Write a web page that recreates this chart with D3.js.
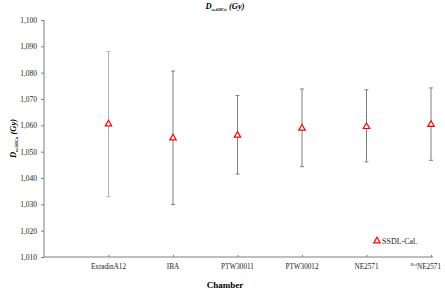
<!DOCTYPE html>
<html>
<head>
<meta charset="utf-8">
<script src="https://cdn.jsdelivr.net/npm/d3@7"></script>
<style>
  body { margin: 0; background: #fff; }
  svg { display: block; font-family: "Liberation Serif", "Times New Roman", serif; }
</style>
</head>
<body>
<div id="chart"></div>
<script>
// Data
const chambers = ["ExradinA12", "IBA", "PTW30011", "PTW30012", "NE2571", "RefNE2571"];
const doseValues = [1.0605, 1.0552, 1.0562, 1.0589, 1.0595, 1.0603];
const errorLow = [1.0329, 1.0299, 1.0415, 1.0443, 1.0461, 1.0467];
const errorHigh = [1.0880, 1.0806, 1.0713, 1.0738, 1.0735, 1.0742];
const barColors = ["#b4b4b4", "#7f7f7f", "#7f7f7f", "#7f7f7f", "#7f7f7f", "#7f7f7f"];
const yTicks = [1.010, 1.020, 1.030, 1.040, 1.050, 1.060, 1.070, 1.080, 1.090, 1.100];

const W = 445, H = 289;
const margin = { left: 44, right: 14, top: 20, bottom: 32 };

const svg = d3.select("#chart").append("svg")
    .attr("width", W)
    .attr("height", H);

const x = d3.scaleLinear()
    .domain([0, chambers.length])
    .range([margin.left, W - margin.right]);

const y = d3.scaleLinear()
    .domain([1.010, 1.100])
    .range([H - margin.bottom, margin.top]);

const commaFmt = v => d3.format(".3f")(v).replace(".", ",");

// Y axis
const yAxis = svg.append("g")
    .attr("transform", `translate(${margin.left},0)`)
    .call(d3.axisLeft(y).tickValues(yTicks).tickFormat(commaFmt).tickSize(3).tickPadding(4));
yAxis.select(".domain").attr("stroke", "#7f7f7f").attr("d", `M0,${y(1.100)}V${y(1.010)}`);
yAxis.selectAll(".tick line").attr("stroke", "#7f7f7f");
yAxis.selectAll(".tick text").attr("font-size", 7.5).attr("fill", "#222")
    .attr("font-family", "Liberation Serif");

// X axis
const xAxis = svg.append("g")
    .attr("transform", `translate(0,${y(1.010)})`)
    .call(d3.axisBottom(x).tickValues(d3.range(1, chambers.length + 1)).tickFormat("").tickSize(-2));
xAxis.select(".domain").attr("stroke", "#7f7f7f").attr("d", `M${margin.left},0H${x(chambers.length) + 2}`);
xAxis.selectAll(".tick line").attr("stroke", "#7f7f7f");

// X tick labels
const labels = svg.append("g").selectAll("text")
    .data(chambers)
    .join("text")
    .attr("x", (d, i) => d.startsWith("Ref") ? W - 4 : x(i + 1))
    .attr("y", y(1.010) + 12)
    .attr("text-anchor", d => d.startsWith("Ref") ? "end" : "middle")
    .attr("font-size", 7.2)
    .attr("fill", "#222");
labels.each(function(d) {
    const t = d3.select(this);
    if (d.startsWith("Ref")) {
        t.append("tspan").attr("font-size", 4.5).attr("dy", -3).text("Ref");
        t.append("tspan").attr("dy", 3).text(d.slice(3));
    } else {
        t.text(d);
    }
});

// Error bars
const bars = svg.append("g").selectAll("g")
    .data(chambers)
    .join("g")
    .attr("stroke", (d, i) => barColors[i])
    .attr("stroke-width", 1);
bars.append("line")
    .attr("x1", (d, i) => x(i + 1)).attr("x2", (d, i) => x(i + 1))
    .attr("y1", (d, i) => y(errorLow[i])).attr("y2", (d, i) => y(errorHigh[i]));
bars.append("line")
    .attr("x1", (d, i) => x(i + 1) - 2).attr("x2", (d, i) => x(i + 1) + 2)
    .attr("y1", (d, i) => y(errorHigh[i])).attr("y2", (d, i) => y(errorHigh[i]));
bars.append("line")
    .attr("x1", (d, i) => x(i + 1) - 2).attr("x2", (d, i) => x(i + 1) + 2)
    .attr("y1", (d, i) => y(errorLow[i])).attr("y2", (d, i) => y(errorLow[i]));

// Markers
const tri = d3.symbol().type(d3.symbolTriangle).size(18);
svg.append("g").selectAll("path")
    .data(doseValues)
    .join("path")
    .attr("transform", (d, i) => `translate(${x(i + 1)},${y(d)})`)
    .attr("d", tri)
    .attr("fill", "#fff")
    .attr("stroke", "#ff0000")
    .attr("stroke-width", 1.2);

// Title
const title = svg.append("text")
    .attr("x", 225).attr("y", 9)
    .attr("text-anchor", "middle")
    .attr("font-weight", "bold").attr("font-style", "italic")
    .attr("font-size", 8.5);
title.append("tspan").text("D");
title.append("tspan").attr("font-size", 5).attr("dy", 2).text("w,60Co");
title.append("tspan").attr("dy", -2).text(" (Gy)");

// Y label
const yLabel = svg.append("text")
    .attr("transform", `translate(16,${(y(1.100) + y(1.010)) / 2}) rotate(-90)`)
    .attr("text-anchor", "middle")
    .attr("font-weight", "bold").attr("font-style", "italic")
    .attr("font-size", 8.5);
yLabel.append("tspan").text("D");
yLabel.append("tspan").attr("font-size", 5).attr("dy", 2).text("w,60Co");
yLabel.append("tspan").attr("dy", -2).text(" (Gy)");

// X label
svg.append("text")
    .attr("x", 225).attr("y", 288)
    .attr("text-anchor", "middle")
    .attr("font-weight", "bold")
    .attr("font-size", 9)
    .text("Chamber");

// Legend
svg.append("path")
    .attr("transform", `translate(377,${y(1.010) - 16})`)
    .attr("d", tri)
    .attr("fill", "#fff")
    .attr("stroke", "#ff0000")
    .attr("stroke-width", 1.2);
svg.append("text")
    .attr("x", 382).attr("y", y(1.010) - 13)
    .attr("font-size", 8)
    .attr("fill", "#222")
    .text("SSDL-Cal.");
</script>
</body>
</html>
